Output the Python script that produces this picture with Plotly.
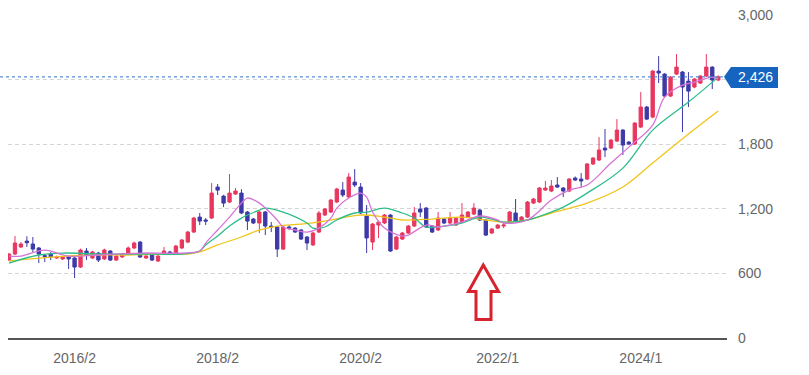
import plotly.graph_objects as go

# ---------------- data (monthly, 2015/3 .. 2025/2) ----------------
opens = [724, 780, 845, 900, 873, 836, 765, 780, 743, 734, 752, 743, 659, 808, 743, 789, 734, 808, 724, 752,
         789, 836, 891, 743, 771, 715, 780, 799, 789, 836, 891, 984, 1123, 1096, 1114, 1402, 1318, 1263, 1337, 1346,
         1170, 1105, 1068, 1170, 1040, 1031, 826, 1031, 1021, 1003, 938, 864, 984, 1142, 1170, 1263, 1374, 1309, 1448, 1402,
         1133, 891, 1049, 1068, 1142, 826, 919, 975, 1040, 1198, 1207, 1040, 1003, 1105, 1068, 1049, 1077, 1123, 1151, 1188,
         1096, 975, 1021, 1040, 1077, 1161, 1086, 1123, 1253, 1263, 1374, 1365, 1421, 1393, 1365, 1486, 1476, 1476, 1616, 1653,
         1764, 1764, 1829, 1931, 1820, 1801, 1959, 2145, 2052, 2479, 2451, 2247, 2451, 2470, 2386, 2331, 2368, 2433, 2516, 2396]
highs = [789, 947, 891, 945, 938, 845, 775, 799, 765, 760, 760, 750, 830, 836, 810, 800, 830, 815, 770, 790,
         850, 895, 900, 770, 780, 770, 845, 810, 865, 920, 995, 1125, 1161, 1114, 1439, 1430, 1330, 1523, 1393, 1383,
         1180, 1115, 1180, 1180, 1077, 1040, 1040, 1049, 1030, 1012, 947, 985, 1179, 1207, 1291, 1395, 1448, 1532, 1569, 1439,
         1235, 1068, 1090, 1151, 1151, 947, 985, 1050, 1216, 1253, 1216, 1049, 1170, 1114, 1170, 1123, 1253, 1179, 1253, 1198,
         1105, 1021, 1058, 1077, 1179, 1291, 1133, 1272, 1300, 1402, 1458, 1467, 1495, 1402, 1486, 1500, 1532, 1625, 1680, 1866,
         1941, 1848, 2033, 1941, 1830, 2005, 2284, 2155, 2490, 2618, 2460, 2433, 2637, 2480, 2470, 2414, 2442, 2637, 2525, 2440]
lows = [715, 771, 836, 845, 799, 696, 705, 724, 735, 725, 641, 557, 650, 724, 735, 706, 725, 715, 715, 745,
        780, 825, 745, 735, 715, 705, 770, 770, 780, 825, 880, 975, 1049, 1049, 1105, 1328, 1216, 1253, 1328, 1150,
        1003, 1058, 975, 956, 984, 752, 817, 1003, 975, 910, 817, 855, 975, 1133, 1161, 1253, 1309, 1300, 1402, 1150,
        789, 817, 929, 1058, 799, 817, 910, 966, 1031, 1123, 1021, 975, 993, 1058, 1058, 1040, 1068, 1114, 1142, 1086,
        947, 966, 1012, 1021, 1068, 1077, 1077, 1114, 1244, 1253, 1365, 1355, 1393, 1309, 1355, 1458, 1402, 1467, 1607, 1644,
        1681, 1755, 1820, 1699, 1792, 1792, 1950, 2024, 2040, 2368, 2238, 2238, 2442, 1913, 2145, 2320, 2359, 2424, 2312, 2386]
closes = [780, 882, 873, 885, 826, 780, 755, 752, 752, 752, 734, 659, 817, 771, 799, 724, 817, 724, 761, 780,
          836, 882, 752, 761, 724, 761, 808, 780, 854, 910, 984, 1114, 1086, 1086, 1346, 1374, 1253, 1346, 1365, 1161,
          1086, 1068, 1170, 1040, 1031, 826, 1031, 1021, 984, 919, 882, 975, 1161, 1198, 1281, 1383, 1328, 1495, 1421, 1161,
          929, 1058, 1077, 1142, 808, 938, 975, 1040, 1161, 1170, 1031, 984, 1114, 1068, 1114, 1114, 1142, 1170, 1207, 1096,
          956, 1012, 1049, 1049, 1170, 1086, 1123, 1263, 1291, 1393, 1393, 1411, 1402, 1365, 1476, 1467, 1458, 1616, 1671, 1746,
          1746, 1838, 1931, 1792, 1801, 1996, 2145, 2033, 2479, 2461, 2247, 2423, 2516, 2331, 2293, 2405, 2433, 2516, 2396, 2426]

tick_months = [11, 35, 59, 82, 106]
tick_labels = ["2016/2", "2018/2", "2020/2", "2022/1", "2024/1"]

# moving averages at sample months
ma_short_x = [0, 2, 6, 10, 15, 22, 29, 32, 33, 35, 37, 39, 40, 42, 43, 45, 46, 48, 50, 52, 54, 55, 57, 59, 60, 61, 63,
              66, 67, 70, 72, 76, 79, 82, 83, 87, 91, 94, 97, 101, 104, 108, 110, 113, 115, 118, 119]
ma_short_y = [761, 761, 817, 761, 771, 789, 789, 808, 882, 1003, 1123, 1253, 1300, 1253, 1207, 1096, 1031, 1003, 984,
              1021, 1114, 1207, 1300, 1346, 1309, 1170, 1021, 947, 956, 1049, 1031, 1077, 1133, 1096, 1068, 1096, 1281,
              1374, 1421, 1625, 1773, 1978, 2238, 2349, 2377, 2423, 2405]
ma_mid_x = [0, 5, 9, 15, 22, 29, 32, 33, 35, 37, 39, 42, 43, 46, 50, 51, 53, 55, 58, 60, 63, 66, 68, 70, 73, 76, 79,
            81, 83, 87, 91, 93, 97, 103, 108, 114, 119]
ma_mid_y = [696, 771, 789, 780, 780, 780, 808, 864, 947, 1040, 1114, 1188, 1207, 1170, 1068, 1021, 1031, 1096, 1161,
            1170, 1207, 1161, 1114, 1031, 1040, 1068, 1123, 1105, 1077, 1096, 1170, 1216, 1346, 1578, 1931, 2191, 2423]
ma_long_x = [0, 7, 14, 20, 27, 30, 32, 35, 39, 42, 45, 49, 53, 59, 63, 66, 71, 76, 80, 83, 87, 91, 97, 103, 108, 114, 119]
ma_long_y = [715, 752, 771, 771, 780, 780, 799, 864, 938, 1003, 1040, 1058, 1086, 1142, 1123, 1096, 1105, 1123, 1096,
             1077, 1096, 1161, 1253, 1402, 1625, 1894, 2108]

last_price = 2426
last_label = "2,426"

# ---------------- figure ----------------
W, H = 809, 375
ML, MR, MT, MB = 8, 82, 15, 37
PW, PH = W - ML - MR, H - MT - MB


def px(x):
    return (x - ML) / PW


def py(y):
    return (H - MB - y) / PH


idx = list(range(len(opens)))
fig = go.Figure()

fig.add_trace(go.Scatter(x=ma_long_x, y=ma_long_y, mode="lines", line=dict(color="#f0c419", width=1.3),
                         line_shape="spline", hoverinfo="skip", showlegend=False))
fig.add_trace(go.Scatter(x=ma_mid_x, y=ma_mid_y, mode="lines", line=dict(color="#2dbd8a", width=1.3),
                         line_shape="spline", hoverinfo="skip", showlegend=False))
fig.add_trace(go.Scatter(x=ma_short_x, y=ma_short_y, mode="lines", line=dict(color="#d673d6", width=1.3),
                         line_shape="spline", hoverinfo="skip", showlegend=False))

fig.add_trace(go.Candlestick(
    x=idx, open=opens, high=highs, low=lows, close=closes,
    increasing=dict(line=dict(color="#e8375e", width=1), fillcolor="#e8375e"),
    decreasing=dict(line=dict(color="#3d3aa8", width=1), fillcolor="#3d3aa8"),
    whiskerwidth=0, showlegend=False))

# current price dashed line
fig.add_shape(type="line", xref="paper", yref="y", x0=px(0), x1=1.0, y0=last_price, y1=last_price,
              line=dict(color="#5a8fd8", width=1.2, dash="3px,3px"), layer="above")

# price label box with pointer
y_top = (H - MB - 67) / PH * 3000
y_bot = (H - MB - 88) / PH * 3000
label_path = (f"M {px(724)},{last_price} L {px(731)},{y_top} L {px(778)},{y_top} "
              f"L {px(778)},{y_bot} L {px(731)},{y_bot} Z")
fig.add_shape(type="path", xref="paper", yref="y", path=label_path,
              fillcolor="#1565c0", line=dict(width=0), layer="above")
fig.add_annotation(xref="paper", yref="y", x=px(755), y=last_price, text=last_label, showarrow=False,
                   xanchor="center", yanchor="middle",
                   font=dict(color="white", size=14, family="Liberation Sans, Arial, sans-serif"))

# red hollow arrow
arrow_pts = [(483.3, 265), (468.5, 291.5), (476, 291.5), (476, 319.5), (491, 319.5), (491, 291.5), (498.5, 291.5)]
arrow_path = "M " + " L ".join(f"{px(a)},{py(b)}" for a, b in arrow_pts) + " Z"
fig.add_shape(type="path", xref="paper", yref="paper", path=arrow_path,
              fillcolor="white", line=dict(color="#d8232f", width=3), layer="above")

fig.update_layout(
    width=W, height=H,
    margin=dict(l=ML, r=MR, t=MT, b=MB, autoexpand=False),
    paper_bgcolor="white", plot_bgcolor="white",
    showlegend=False, boxgap=0.2,
    font=dict(family="Liberation Sans, Arial, sans-serif", size=14, color="#666666"),
    xaxis=dict(range=[-0.17, 120.47], tickmode="array", tickvals=tick_months, ticktext=tick_labels,
               showgrid=False, zeroline=False, showline=True, linecolor="#555555", linewidth=2,
               ticks="", rangeslider=dict(visible=False), ticklabelstandoff=6,
               tickfont=dict(size=14, color="#666666")),
    yaxis=dict(range=[0, 3000], side="right", tickmode="array",
               tickvals=[0, 600, 1200, 1800, 2400, 3000],
               ticktext=["0", "600", "1,200", "1,800", "", "3,000"],
               showgrid=True, gridcolor="#d5d5d5", griddash="4px,3px", gridwidth=1,
               zeroline=False, showline=False, ticks="", ticklabelstandoff=10,
               tickfont=dict(size=14, color="#666666")),
)

fig.write_html("out.html", config={"displayModeBar": False, "staticPlot": True},
               post_script="document.body.style.margin='0';document.body.style.overflow='hidden';")
